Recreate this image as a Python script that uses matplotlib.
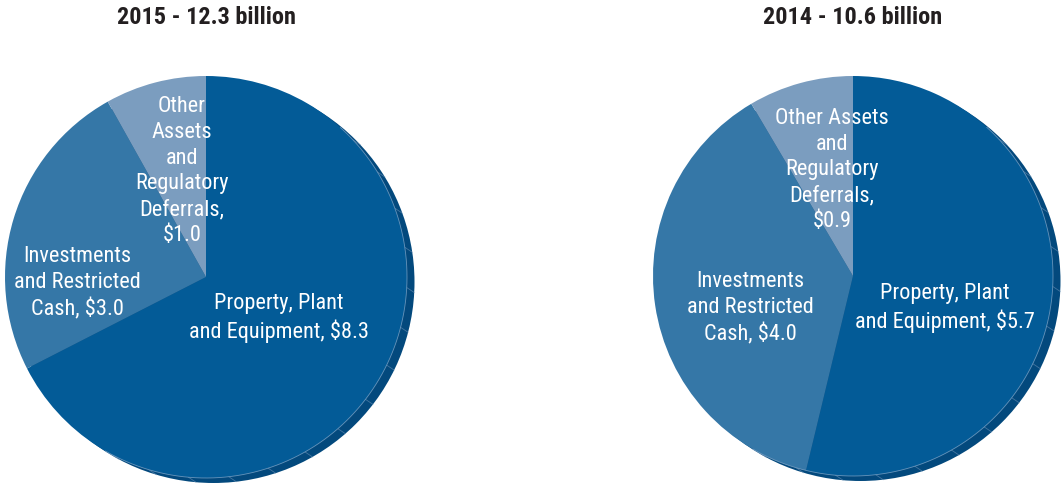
import numpy as np
import matplotlib.pyplot as plt
from matplotlib.patches import Circle
from matplotlib import font_manager

# Asset breakdown, $ billions
titles = ["2015 - 12.3 billion", "2014 - 10.6 billion"]
values_2015 = [8.3, 3.0, 1.0]
values_2014 = [5.7, 4.0, 0.9]
labels_2015 = ["Property, Plant\nand Equipment, ${:.1f}",
               "Investments\nand Restricted\nCash, ${:.1f}",
               "Other\nAssets\nand\nRegulatory\nDeferrals,\n${:.1f}"]
labels_2014 = ["Property, Plant\nand Equipment, ${:.1f}",
               "Investments\nand Restricted\nCash, ${:.1f}",
               "Other Assets\nand\nRegulatory\nDeferrals,\n${:.1f}"]

colors = ["#035b97", "#3577a7", "#7b9dbf"]
rim_color = "#03497d"

W, H = 1061, 489
installed = {(f.name, f.stretch) for f in font_manager.fontManager.ttflist}
names = {n for n, _ in installed}
family, stretch = "DejaVu Sans", "normal"
for cand in ["Roboto Condensed", "Liberation Sans Narrow", "Open Sans Condensed", "Noto Sans Condensed"]:
    if cand in names:
        family = cand
        break
else:
    if ("DejaVu Sans", "condensed") in installed or ("DejaVu Sans", "semi-condensed") in installed:
        stretch = "condensed"
plt.rcParams["font.family"] = [family, "DejaVu Sans"]
plt.rcParams["font.stretch"] = stretch

fig = plt.figure(figsize=(W / 100, H / 100), dpi=100)
ax = fig.add_axes([0, 0, 1, 1])

pies = [
    dict(vals=values_2015, labels=labels_2015, center=(206, 211), r=201,
         label_pos=[(279, 318), (77, 283), (182, 171)]),
    dict(vals=values_2014, labels=labels_2014, center=(853, 212), r=200,
         label_pos=[(945, 308), (750, 308), (832, 170)]),
]

off = np.array([7.5, -5.0])
for p, title in zip(pies, titles):
    cx, cy = p["center"]
    r = p["r"]
    # darker extruded rim behind the pie
    ax.add_patch(Circle((cx + off[0], cy + off[1]), r, color=rim_color, zorder=0, lw=0))
    for a in np.arange(-118, 48, 11.5):
        t = np.deg2rad(a)
        x0, y0 = cx + r * np.cos(t), cy + r * np.sin(t)
        ax.plot([x0, x0 + off[0]], [y0, y0 + off[1]], color="#6f93b8", lw=0.6, alpha=0.6, zorder=0.5)
    ax.pie(p["vals"], colors=colors, startangle=90, counterclock=False,
           center=(cx, cy), radius=r, wedgeprops=dict(lw=0), frame=True)
    # light edge along the lit side
    th = np.deg2rad(np.linspace(-120, 48, 200))
    ax.plot(cx + r * np.cos(th), cy + r * np.sin(th), color="#8fb0d0", lw=0.6, alpha=0.7, zorder=2)
    for lab, v, (tx, ty) in zip(p["labels"], p["vals"], p["label_pos"]):
        ax.text(tx, H - ty, lab.format(v), color="white", fontsize=16, ha="center", va="center",
                linespacing=1.3, zorder=3)
    ax.text(cx, H - 18, title, fontsize=17.5, fontweight="bold", color="#231f20",
            ha="center", va="center")

ax.set_xlim(0, W)
ax.set_ylim(0, H)
ax.set_aspect("equal")
ax.axis("off")

fig.savefig("out.png", dpi=100)
